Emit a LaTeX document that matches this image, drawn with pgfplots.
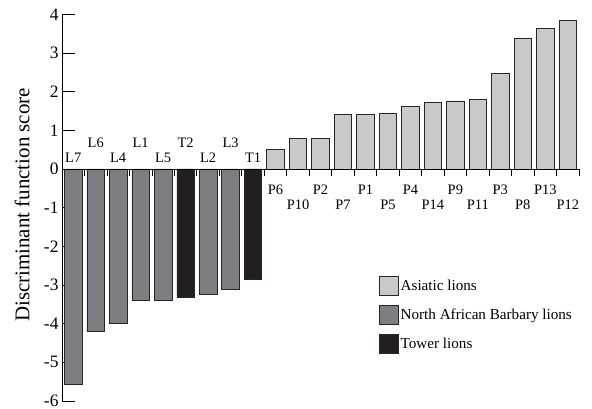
\documentclass[border=0pt]{standalone}
\usepackage{pgfplots}
\pgfplotsset{compat=1.18}
\usepackage{fontspec}
\setmainfont{Liberation Serif}

\definecolor{asia}{RGB}{200,201,203}
\definecolor{barbary}{RGB}{125,126,130}
\definecolor{tower}{RGB}{35,31,32}

% bar heights, one table per group (x = position along the axis)
\pgfplotstableread{
x y
9 0.51
10 0.79
11 0.79
12 1.40
13 1.42
14 1.45
15 1.61
16 1.71
17 1.76
18 1.79
19 2.48
20 3.37
21 3.63
22 3.85
}\asiatic
\pgfplotstableread{
x y
0 -5.56
1 -4.20
2 -4.00
3 -3.41
4 -3.39
6 -3.24
7 -3.10
}\barbary
\pgfplotstableread{
x y
5 -3.33
8 -2.86
}\tower
% sample names and where they sit
\pgfplotstableread{
x y lab
0 0.30 L7
1 0.69 L6
2 0.30 L4
3 0.69 L1
4 0.30 L5
5 0.69 T2
6 0.30 L2
7 0.69 L3
8 0.30 T1
9 -0.54 P6
10 -0.92 P10
11 -0.54 P2
12 -0.92 P7
13 -0.54 P1
14 -0.92 P5
15 -0.54 P4
16 -0.92 P14
17 -0.54 P9
18 -0.92 P11
19 -0.54 P3
20 -0.92 P8
21 -0.54 P13
22 -0.92 P12
}\names
% short separators hanging under the zero line, between samples
\pgfplotstableread{
x y
-0.5 -0.181
0.5 -0.181
1.5 -0.181
2.5 -0.181
3.5 -0.181
4.5 -0.181
5.5 -0.181
6.5 -0.181
7.5 -0.181
8.5 -0.181
9.5 -0.181
10.5 -0.181
11.5 -0.181
12.5 -0.181
13.5 -0.181
14.5 -0.181
15.5 -0.181
16.5 -0.181
17.5 -0.181
18.5 -0.181
19.5 -0.181
20.5 -0.181
21.5 -0.181
22.5 -0.181
}\seps

\begin{document}
\begin{tikzpicture}
\useasboundingbox (-62bp,-8bp) rectangle (530bp,401bp);
\begin{axis}[
    at={(0,0)}, anchor=south west,
    scale only axis,
    width=517bp, height=386.7bp,
    xmin=-0.5, xmax=22.5,
    ymin=-6, ymax=4,
    clip=false,
    axis y line=left,
    axis x line=none,
    axis line style={-, black, line width=0.8bp},
    ytick={-6,-5,...,4},
    major tick length=13bp,
    ytick align=inside,
    tick style={black, line width=0.8bp},
    /pgf/number format/assume math mode=true,
    yticklabel style={font=\fontsize{17.5}{20}\selectfont},
    ylabel={Discriminant function score},
    ylabel style={font=\fontsize{21}{24}\selectfont,
        at={(axis description cs:-0.077,0.507)}, anchor=center},
    legend style={at={(0.607,0.328)}, anchor=north west, draw=none, fill=none,
        font=\fontsize{15.2}{18}\selectfont, row sep=9bp},
    legend cell align=left,
    legend image code/.code={\draw[#1] (-4bp,-9.5bp) rectangle (15bp,9.5bp);},
]
\addplot[ybar, bar shift=0pt, bar width=0.78, fill=asia, draw=black!85, line width=0.7bp]
    table {\asiatic};
\addlegendentry{Asiatic lions}
\addplot[ybar, bar shift=0pt, bar width=0.78, fill=barbary, draw=black!85, line width=0.7bp]
    table {\barbary};
\addlegendentry{North African Barbary lions}
\addplot[ybar, bar shift=0pt, bar width=0.78, fill=tower, draw=black!85, line width=0.7bp]
    table {\tower};
\addlegendentry{Tower lions}

\addplot[ycomb, mark=none, black, line width=0.8bp, forget plot]
    table {\seps};

\addplot[only marks, mark=*, mark size=0pt, draw=none, fill=none,
    nodes near coords, point meta=explicit symbolic,
    every node near coord/.style={anchor=center, text=black, inner sep=0pt,
        font=\fontsize{14.5}{16}\selectfont},
    forget plot]
    table[meta=lab] {\names};
\end{axis}
% zero line across the whole axis
\begin{axis}[
    at={(0,225.02bp)}, anchor=south west,
    scale only axis,
    width=517bp, height=7bp,
    xmin=-0.5, xmax=22.5,
    ymin=0, ymax=1,
    axis x line=top,
    axis y line=none,
    axis line style={-, black, line width=0.8bp},
    xtick=\empty,
    ytick=\empty,
]
\end{axis}
\end{tikzpicture}
\end{document}
